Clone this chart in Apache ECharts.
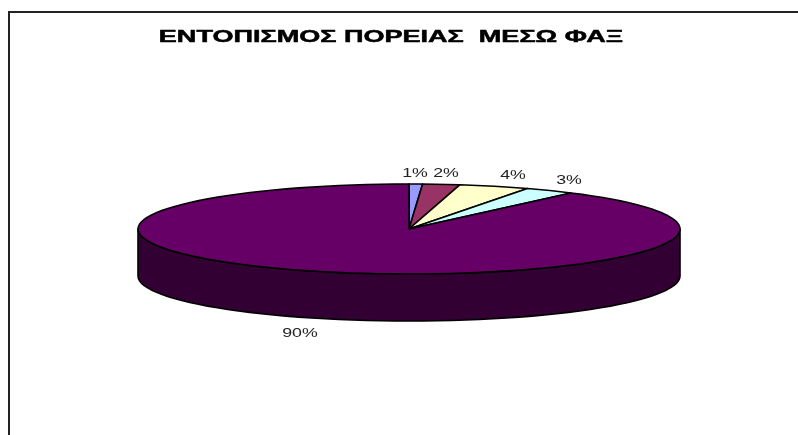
<!DOCTYPE html>
<html><head><meta charset="utf-8">
<style>html,body{margin:0;padding:0;background:#fff}#c{width:798px;height:435px}</style>
<script src="https://cdn.jsdelivr.net/npm/echarts@6/dist/echarts.min.js"></script>
</head><body><div id="c"></div>
<script>
const titleText = 'ΕΝΤΟΠΙΣΜΟΣ ΠΟΡΕΙΑΣ  ΜΕΣΩ ΦΑΞ';
const categories = ['A', 'B', 'C', 'D', 'E'];
const values = [0.8, 2.2, 4.2, 3, 89.8];
const colors = ['#9999FF', '#993366', '#FFFFCC', '#CCFFFF', '#660066'];
const labelCentres = [[415, 174], [446, 174], [513, 176], [569, 181], [300, 334]];

const CX = 409, CY = 229, RX = 271, RY = 45, DEPTH = 47, SIDE = '#330033';
const total = values.reduce((a, b) => a + b, 0);
const font = 'Liberation Sans, Arial, sans-serif';
const pt = (t, dy) => [CX + RX * Math.sin(t), CY - RY * Math.cos(t) + (dy || 0)];
const arc = (a, b, dy) => {
  const out = [], n = Math.max(2, Math.ceil((b - a) / (Math.PI / 60)));
  for (let i = 0; i <= n; i++) out.push(pt(a + (b - a) * i / n, dy));
  return out;
};

function renderItem(params, api) {
  const i = params.dataIndex;
  let before = 0;
  for (let k = 0; k < i; k++) before += values[k];
  const a = before / total * 2 * Math.PI;
  const b = (before + api.value(0)) / total * 2 * Math.PI;
  const children = [];
  const s = Math.max(a, Math.PI / 2), e = Math.min(b, 3 * Math.PI / 2);
  if (e > s) {
    const pts = arc(s, e, 0).concat(arc(s, e, DEPTH).reverse());
    children.push({ type: 'polygon', shape: { points: pts },
      style: { fill: SIDE, stroke: '#000', lineWidth: 1.6, lineJoin: 'round' } });
  }
  children.push({ type: 'polygon', shape: { points: [[CX, CY]].concat(arc(a, b, 0)) },
    style: { fill: api.visual('color'), stroke: '#000', lineWidth: 1.6, lineJoin: 'round' } });
  const c = labelCentres[i];
  children.push({ type: 'text', x: c[0], y: c[1], scaleX: 1.42, z2: 10,
    style: { text: Math.round(api.value(0) / total * 100) + '%', fill: '#222',
      font: '12.5px ' + font, align: 'center', verticalAlign: 'middle' } });
  return { type: 'group', children };
}

const chart = echarts.init(document.getElementById('c'), null, { renderer: 'canvas' });
chart.setOption({
  animation: false,
  backgroundColor: '#fff',
  graphic: [
    { type: 'line', shape: { x1: 8, y1: 12, x2: 798, y2: 12 }, style: { stroke: '#222', lineWidth: 2 } },
    { type: 'line', shape: { x1: 9, y1: 11, x2: 9, y2: 435 }, style: { stroke: '#222', lineWidth: 2 } },
    { type: 'text', x: 391, y: 37.5, scaleX: 1.59,
      style: { text: titleText, fill: '#000', stroke: '#000', lineWidth: 0.5, font: 'bold 17px ' + font, align: 'center', verticalAlign: 'middle' } }
  ],
  series: [{
    type: 'custom',
    coordinateSystem: 'none',
    renderItem,
    encode: { value: 0 },
    silent: true,
    data: values.map((v, i) => ({ name: categories[i], value: [v], itemStyle: { color: colors[i] } }))
  }]
});
</script></body></html>
